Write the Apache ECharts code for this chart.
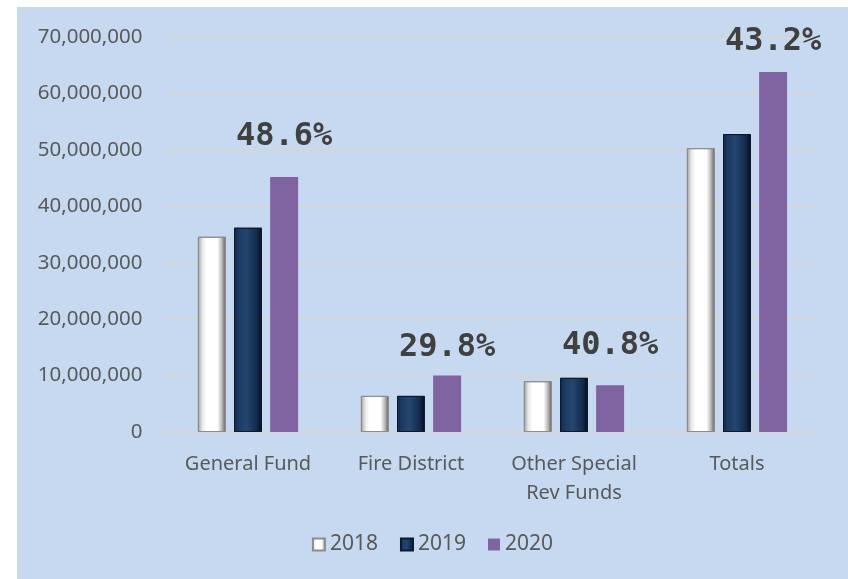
<!DOCTYPE html>
<html>
<head>
<meta charset="utf-8">
<script src="https://cdn.jsdelivr.net/npm/echarts@6/dist/echarts.min.js"></script>
<style>
  html, body { margin: 0; padding: 0; background: #fff; }
  #chart { position: absolute; left: 17px; top: 7px; width: 831px; height: 572px; }
</style>
</head>
<body>
<div id="chart"></div>
<script>
// fund categories and yearly totals
var categories = ['General Fund', 'Fire District', 'Other Special\nRev Funds', 'Totals'];
var years = ['2018', '2019', '2020'];
var values2018 = [34600000, 6400000, 9000000, 50300000];
var values2019 = [36200000, 6400000, 9600000, 52800000];
var values2020 = [45200000, 10000000, 8300000, 63800000];
var pctLabels = ['48.6%', '29.8%', '40.8%', '43.2%'];
var yTicks = [0, 10000000, 20000000, 30000000, 40000000, 50000000, 60000000, 70000000];

var labelDist = [24, 12, 23, 14];

var chart = echarts.init(document.getElementById('chart'));

var whiteBevel = {
    type: 'linear', x: 0, y: 0, x2: 1, y2: 0,
    colorStops: [
        {offset: 0, color: '#9a9a9a'},
        {offset: 0.15, color: '#e6e6e6'},
        {offset: 0.3, color: '#ffffff'},
        {offset: 0.7, color: '#ffffff'},
        {offset: 0.85, color: '#bdbdbd'},
        {offset: 1, color: '#5a5a5a'}
    ]
};
var navyBevel = {
    type: 'linear', x: 0, y: 0, x2: 1, y2: 0,
    colorStops: [
        {offset: 0, color: '#0f2440'},
        {offset: 0.15, color: '#1b3a63'},
        {offset: 0.45, color: '#24466f'},
        {offset: 0.8, color: '#132c4d'},
        {offset: 1, color: '#050d1a'}
    ]
};

chart.setOption({
    backgroundColor: '#C6D9F1',
    textStyle: { fontFamily: 'Noto Sans' },
    grid: { left: 149.5, right: 29.5, top: 30, bottom: 147, containLabel: false },
    legend: {
        bottom: 19,
        left: 'center',
        itemWidth: 12,
        itemHeight: 12,
        itemGap: 22,
        icon: 'rect',
        textStyle: { color: '#595959', fontSize: 21, fontFamily: 'Noto Sans' },
        data: years
    },
    xAxis: {
        type: 'category',
        data: categories,
        axisLine: { lineStyle: { color: '#D9D4CC', width: 1.5 } },
        axisTick: { show: false },
        axisLabel: {
            interval: 0, hideOverlap: false,
            color: '#595959', fontSize: 20, margin: 18, lineHeight: 29, fontFamily: 'Noto Sans'
        }
    },
    yAxis: {
        type: 'value',
        min: yTicks[0],
        max: yTicks[yTicks.length - 1],
        interval: 10000000,
        axisLine: { show: false },
        axisTick: { show: false },
        splitLine: { lineStyle: { color: '#D9D4CC', width: 1.5 } },
        axisLabel: {
            color: '#595959', fontSize: 20.5, margin: 24, fontFamily: 'Noto Sans',
            formatter: function (v) { return v.toLocaleString('en-US'); }
        }
    },
    series: [
        {
            name: '2018', type: 'bar', data: values2018,
            barWidth: 28, barGap: '29%',
            itemStyle: { color: whiteBevel, borderColor: '#8c8c8c', borderWidth: 1 }
        },
        {
            name: '2019', type: 'bar', data: values2019,
            barWidth: 28,
            itemStyle: { color: navyBevel, borderColor: '#0b1a30', borderWidth: 1 }
        },
        {
            name: '2020', type: 'bar', barWidth: 28,
            itemStyle: { color: '#8064A2' },
            data: values2020.map(function (v, i) {
                return {
                    value: v,
                    label: {
                        show: true, position: 'top', distance: labelDist[i],
                        formatter: pctLabels[i],
                        color: '#404040', fontSize: 32, fontWeight: 'bold',
                        fontFamily: 'DejaVu Sans Mono'
                    }
                };
            })
        }
    ]
});
</script>
</body>
</html>
